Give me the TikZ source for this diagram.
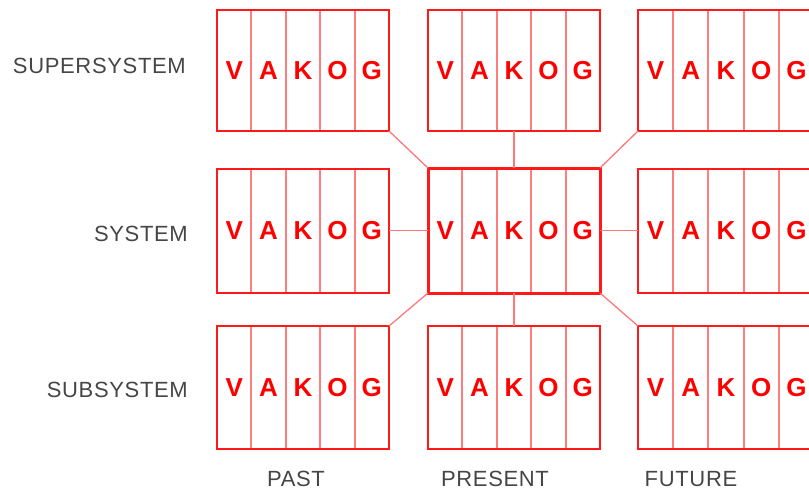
\documentclass[tikz,border=0pt]{standalone}
\usepackage{fontspec}
\setmainfont{Liberation Sans}
\newfontfamily\labelfont[LetterSpace=3]{Liberation Sans}
\usetikzlibrary{calc}
\definecolor{boxred}{RGB}{255,25,25}
\definecolor{divred}{RGB}{255,125,125}
\definecolor{linkred}{RGB}{255,120,120}
\definecolor{labelgray}{RGB}{70,70,70}
\tikzset{
  boxarea/.style={inner sep=0pt, outer sep=0pt},
  divider/.style={draw=divred, line width=2pt},
  boxline/.style={draw=boxred},
  letter/.style={inner sep=0pt, text=red, font=\bfseries\fontsize{26}{26}\selectfont, text height=18.6pt, text depth=0pt},
  link/.style={draw=linkred, line width=1.3pt},
  rowlabel/.style={inner sep=0pt, anchor=east, text=labelgray, font=\labelfont\fontsize{22}{22}\selectfont, text height=15.8pt, text depth=0pt},
  collabel/.style={inner sep=0pt, anchor=center, text=labelgray, font=\labelfont\fontsize{22}{22}\selectfont, text height=15.8pt, text depth=0pt}
}
\newcommand\vakogbox[6]{%
  \node[boxarea, minimum width=#4pt, minimum height=#5pt] (#1) at (#2,#3) {};
  \foreach \k in {1,2,3,4}{%
    \draw[divider] ($(#1.north west)!\k/5!(#1.north east)$) -- ($(#1.south west)!\k/5!(#1.south east)$);
  }
  \foreach \k/\l in {1/V,2/A,3/K,4/O,5/G}{%
    \node[letter] (#1-\l) at ($(#1.west)!{(\k-0.5)/5}!(#1.east)$) {\l};
  }
  \draw[boxline, line width=#6pt] (#1.north west) rectangle (#1.south east);
}
\begin{document}
\begin{tikzpicture}[x=1pt, y=-1pt]
\useasboundingbox (0,0) rectangle (809,490);
\clip (0,0) rectangle (809,490);
% boxes
\vakogbox{tl}{303}{70.5}{172}{121}{2}
\vakogbox{tm}{514}{70.5}{172}{121}{2}
\vakogbox{tr}{726}{70.5}{176}{121}{2}
\vakogbox{ml}{303}{230.5}{172}{124}{2}
\vakogbox{c}{514}{230.5}{172}{125}{3}
\vakogbox{mr}{726}{230.5}{176}{124}{2}
\vakogbox{bl}{303}{387.5}{172}{123}{2}
\vakogbox{bm}{514}{387.5}{172}{123}{2}
\vakogbox{br}{726}{387.5}{176}{123}{2}
% connectors
\draw[link] (tl.south east) -- (c.north west);
\draw[link] (tm.south) -- (c.north);
\draw[link] (tr.south west) -- (c.north east);
\draw[link] (ml.east) -- (c.west);
\draw[link] (c.east) -- (mr.west);
\draw[link] (c.south west) -- (bl.north east);
\draw[link] (c.south) -- (bm.north);
\draw[link] (c.south east) -- (br.north west);
% labels
\node[rowlabel] (lsuper) at (186,65.5) {SUPERSYSTEM};
\node[rowlabel] (lsys) at (188,233.5) {SYSTEM};
\node[rowlabel] (lsub) at (188,390) {SUBSYSTEM};
\node[collabel] (lpast) at (296,479) {PAST};
\node[collabel] (lpresent) at (495,479) {PRESENT};
\node[collabel] (lfuture) at (691,479) {FUTURE};
\end{tikzpicture}
\end{document}
